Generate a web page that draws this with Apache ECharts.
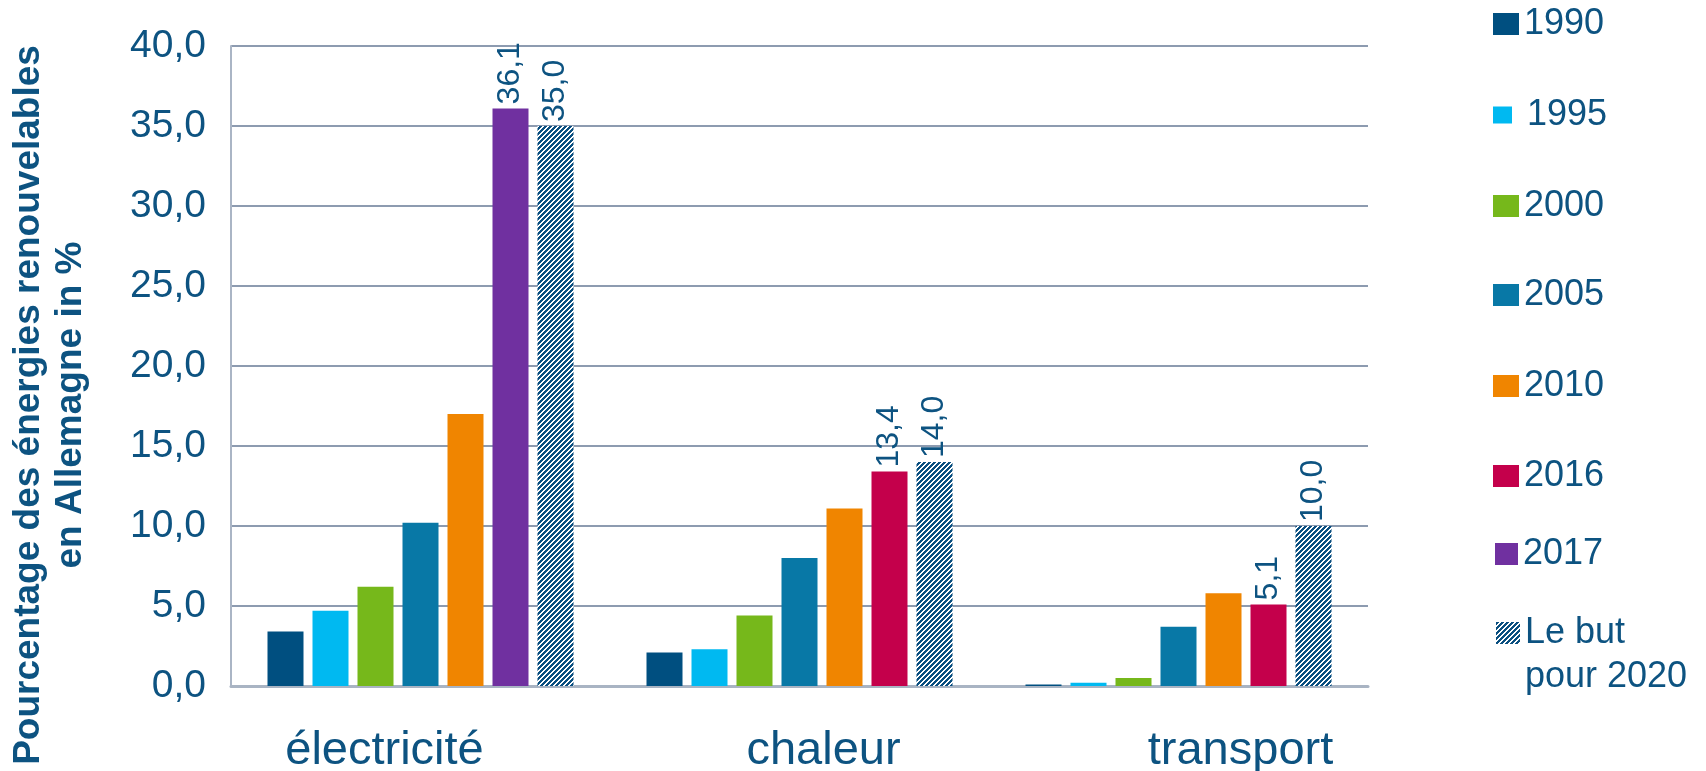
<!DOCTYPE html>
<html>
<head>
<meta charset="utf-8">
<script src="https://cdn.jsdelivr.net/npm/echarts@6/dist/echarts.min.js"></script>
<style>
html,body{margin:0;padding:0;background:#ffffff;}
#chart{width:1706px;height:771px;}
</style>
</head>
<body>
<div id="chart"></div>
<script>
// ---- data ----
const categories = ['électricité', 'chaleur', 'transport'];
const v1990 = [3.4, 2.1, 0.1];
const v1995 = [4.7, 2.3, 0.2];
const v2000 = [6.2, 4.4, 0.5];
const v2005 = [10.2, 8.0, 3.7];
const v2010 = [17.0, 11.1, 5.8];
const v2016 = [null, 13.4, 5.1];
const v2017 = [36.1, null, null];
const vGoal = [35.0, 14.0, 10.0];
const seriesNames = ['1990', '1995', '2000', '2005', '2010', '2016', '2017', 'Le but\npour 2020'];
const yAxisTitle = 'Pourcentage des énergies renouvelables\nen Allemagne in %';

// ---- styles ----
const TEXT = '#0d5381';
const FONT = 'Liberation Sans, Arial, sans-serif';
const colors = ['#004f80', '#00b9f1', '#76b81b', '#0878a6', '#f08500', '#c4004b', '#7030a0'];

function makeHatch() {
  const n = 5;
  const c = document.createElement('canvas');
  c.width = n; c.height = n;
  const ctx = c.getContext('2d');
  const img = ctx.createImageData(n, n);
  for (let y = 0; y < n; y++) {
    for (let x = 0; x < n; x++) {
      const dark = ((x + y) % n) < 3;
      const i = (y * n + x) * 4;
      img.data[i] = dark ? 0x0a : 255;
      img.data[i + 1] = dark ? 0x4f : 255;
      img.data[i + 2] = dark ? 0x80 : 255;
      img.data[i + 3] = 255;
    }
  }
  ctx.putImageData(img, 0, 0);
  return c;
}
const hatch = { image: makeHatch(), repeat: 'repeat' };

const fmt = v => Number(v).toFixed(1).replace('.', ',');

const labelCfg = {
  show: true, position: 'top', rotate: 90, align: 'left', verticalAlign: 'middle',
  distance: 4, fontSize: 32, fontFamily: FONT, color: TEXT,
  formatter: p => fmt(p.value)
};

const dataSets = [v1990, v1995, v2000, v2005, v2010, v2016, v2017, vGoal];
const series = dataSets.map((d, i) => {
  const s = {
    name: seriesNames[i], type: 'bar', data: d,
    barWidth: 36, barGap: '25%',
    itemStyle: { color: i < 7 ? colors[i] : hatch },
    emphasis: { disabled: true }
  };
  if (i === 5 || i === 6) s.stack = 'recent';
  if (i >= 5) s.label = labelCfg;
  return s;
});

// one legend per entry, to place each like the reference
const legendCenters = [24, 115, 206, 295, 386, 476, 554];
const legends = seriesNames.slice(0, 7).map((n, i) => {
  const small = (i === 1);
  return {
    data: [n], orient: 'vertical', left: i === 6 ? 1495 : 1493, top: legendCenters[i] - 20,
    padding: 0, icon: 'rect', selectedMode: false,
    itemWidth: small ? 19 : (i === 6 ? 23 : 26), itemHeight: small ? 17 : 22,
    textStyle: { fontSize: 36, fontFamily: FONT, color: TEXT, lineHeight: 40 },
    formatter: small ? (name => ' ' + name) : undefined
  };
});
legends.push({
  data: [seriesNames[7]], orient: 'vertical', left: 1496, top: 633 - 66,
  padding: 0, icon: 'rect', selectedMode: false, itemWidth: 24, itemHeight: 22,
  textStyle: { fontSize: 36, fontFamily: FONT, color: TEXT, lineHeight: 44 },
  formatter: name => ' \n' + name
});

const chart = echarts.init(document.getElementById('chart'), null, { renderer: 'canvas' });
chart.setOption({
  animation: false,
  backgroundColor: '#ffffff',
  grid: { left: 231, right: 338, top: 46, bottom: 85, containLabel: false, outerBoundsMode: 'none' },
  legend: legends,
  xAxis: {
    type: 'category', data: categories,
    axisTick: { show: false },
    axisLine: { show: true, lineStyle: { color: '#a9b4c3', width: 3 } },
    axisLabel: {
      interval: 0, hideOverlap: false,
      margin: 42, fontSize: 47, fontFamily: FONT, color: TEXT,
      formatter: (v, i) => '{c' + i + '|' + v + '}',
      rich: {
        c0: { fontSize: 47, fontFamily: FONT, color: TEXT, padding: [0, 72, 0, 0] },
        c1: { fontSize: 47, fontFamily: FONT, color: TEXT, padding: [0, 0, 0, 48] },
        c2: { fontSize: 47, fontFamily: FONT, color: TEXT, padding: [0, 0, 0, 124] }
      }
    }
  },
  yAxis: {
    type: 'value', min: 0, max: 40, interval: 5,
    axisLine: { show: true, lineStyle: { color: '#aab5c5', width: 2 } },
    axisTick: { show: false },
    splitLine: { show: true, lineStyle: { color: '#8d9bb0', width: 2 } },
    axisLabel: { margin: 25, fontSize: 39, fontFamily: FONT, color: TEXT, formatter: v => fmt(v) }
  },
  graphic: [{
    type: 'text', x: 50, y: 405, rotation: Math.PI / 2,
    style: {
      text: yAxisTitle, fill: TEXT, fontSize: 37, fontWeight: 'bold', fontFamily: FONT,
      align: 'center', verticalAlign: 'middle', textAlign: 'center', textVerticalAlign: 'middle',
      lineHeight: 42
    }
  }],
  series: series
});
</script>
</body>
</html>
